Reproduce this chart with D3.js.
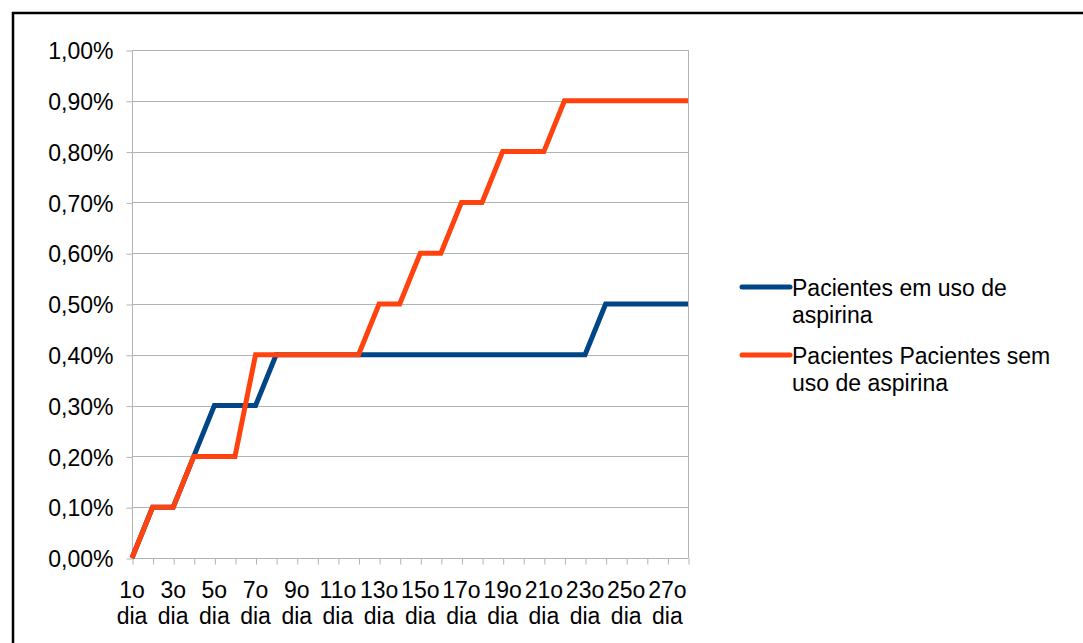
<!DOCTYPE html>
<html>
<head>
<meta charset="utf-8">
<script src="https://cdn.jsdelivr.net/npm/d3@7"></script>
<style>
  html, body { margin: 0; padding: 0; background: #fff; }
  svg { display: block; }
  text { font-family: "Liberation Sans", Arial, sans-serif; fill: #000; }
</style>
</head>
<body>
<svg id="chart" width="1083" height="643"></svg>
<script>
const categories = ["1o dia","2o dia","3o dia","4o dia","5o dia","6o dia","7o dia","8o dia","9o dia","10o dia",
  "11o dia","12o dia","13o dia","14o dia","15o dia","16o dia","17o dia","18o dia","19o dia","20o dia",
  "21o dia","22o dia","23o dia","24o dia","25o dia","26o dia","27o dia","28o dia"];
const comAspirina = [0,0.1,0.1,0.2,0.3,0.3,0.3,0.4,0.4,0.4,0.4,0.4,0.4,0.4,0.4,0.4,0.4,0.4,0.4,0.4,0.4,0.4,0.4,0.5,0.5,0.5,0.5,0.5];
const semAspirina = [0,0.1,0.1,0.2,0.2,0.2,0.4,0.4,0.4,0.4,0.4,0.4,0.5,0.5,0.6,0.6,0.7,0.7,0.8,0.8,0.8,0.9,0.9,0.9,0.9,0.9,0.9,0.9];
const yTicks = [0,0.1,0.2,0.3,0.4,0.5,0.6,0.7,0.8,0.9,1.0];
const seriesNames = ["Pacientes em uso de|aspirina", "Pacientes Pacientes sem|uso de aspirina"];
const seriesColors = ["#004586", "#ff420e"];

const svg = d3.select("#chart");
const pL = 132, pR = 688, pT = 50, pB = 558;
const fs = 23;

// outer frame
svg.append("line").attr("x1", 12).attr("x2", 1083).attr("y1", 13).attr("y2", 13)
  .attr("stroke", "#000").attr("stroke-width", 2.5);
svg.append("line").attr("x1", 13).attr("x2", 13).attr("y1", 12).attr("y2", 643)
  .attr("stroke", "#000").attr("stroke-width", 2.5);

const x = d3.scalePoint().domain(categories).range([pL, pR]);
const y = d3.scaleLinear().domain([0, 1]).range([pB, pT]);

// gridlines
svg.append("g").selectAll("line").data(yTicks).join("line")
  .attr("x1", pL).attr("x2", pR)
  .attr("y1", d => Math.round(y(d)) + 0.5).attr("y2", d => Math.round(y(d)) + 0.5)
  .attr("stroke", "#b3b3b3").attr("stroke-width", 1);
// right border of plot area
svg.append("line").attr("x1", pR + 0.5).attr("x2", pR + 0.5).attr("y1", pT).attr("y2", pB)
  .attr("stroke", "#b3b3b3");

// y axis
const yAxis = d3.axisLeft(y).tickValues(yTicks).tickSize(6).tickPadding(13)
  .tickFormat(d => d3.format(".2f")(d).replace(".", ",") + "%");
const gy = svg.append("g").attr("transform", `translate(${pL + 0.5},0.5)`).call(yAxis);
gy.select(".domain").attr("stroke", "#b3b3b3").attr("d", `M0,${pT}V${pB}`);
gy.selectAll(".tick line").attr("stroke", "#b3b3b3");
gy.selectAll(".tick text").attr("font-size", fs).attr("dy", "0.36em")
  .style("font-family", '"Liberation Sans", Arial, sans-serif').attr("fill", "#000");

// x axis
const xAxis = d3.axisBottom(x).tickSize(6).tickFormat("");
const gx = svg.append("g").attr("transform", `translate(0.5,${pB + 0.5})`).call(xAxis);
gx.select(".domain").attr("stroke", "#b3b3b3").attr("d", `M${pL},0H${pR}`);
gx.selectAll(".tick line").attr("stroke", "#b3b3b3");

// x labels (every other)
const lab = svg.append("g");
categories.forEach((c, i) => {
  if (i % 2 !== 0) return;
  const parts = c.split(" ");
  const t = lab.append("text").attr("x", x(c)).attr("text-anchor", "middle").attr("font-size", fs);
  t.append("tspan").attr("x", x(c)).attr("y", 598).text(parts[0]);
  t.append("tspan").attr("x", x(c)).attr("y", 624).text(parts[1]);
});

// lines
const line = d3.line().x((d, i) => x(categories[i])).y(d => y(d));
[comAspirina, semAspirina].forEach((s, k) => {
  svg.append("path").datum(s).attr("d", line).attr("fill", "none")
    .attr("stroke", seriesColors[k]).attr("stroke-width", 5)
    .attr("stroke-linejoin", "miter").attr("stroke-linecap", "butt");
});

// legend
const legY = [287, 355];
seriesNames.forEach((n, k) => {
  svg.append("line").attr("x1", 742).attr("x2", 790).attr("y1", legY[k]).attr("y2", legY[k])
    .attr("stroke", seriesColors[k]).attr("stroke-width", 5).attr("stroke-linecap", "round");
  const lines = n.split("|");
  const t = svg.append("text").attr("font-size", fs);
  lines.forEach((ln, j) => {
    t.append("tspan").attr("x", 792).attr("y", legY[k] + 9 + j * 27).text(ln);
  });
});
</script>
</body>
</html>
